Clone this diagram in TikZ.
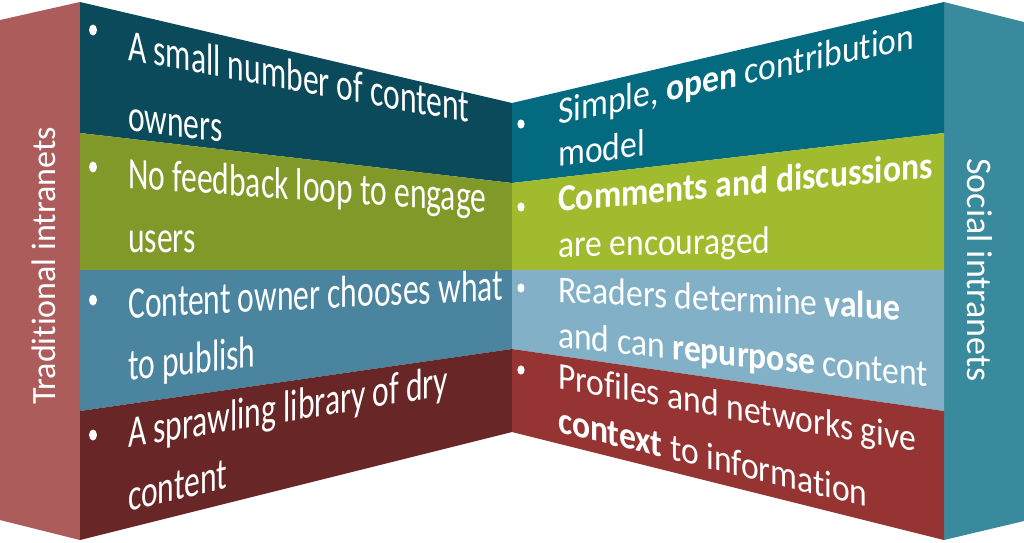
\documentclass[tikz,border=0pt]{standalone}
\usepackage{fontspec}
\setmainfont[Ligatures=NoCommon]{Carlito}
\definecolor{lpanel}{HTML}{AD5C5C}
\definecolor{rpanel}{HTML}{3A8A9E}
\definecolor{lA}{HTML}{0A4A5A}
\definecolor{lB}{HTML}{809928}
\definecolor{lC}{HTML}{4A849E}
\definecolor{lD}{HTML}{682626}
\definecolor{rA}{HTML}{036A80}
\definecolor{rB}{HTML}{A0BC2E}
\definecolor{rC}{HTML}{82B0C6}
\definecolor{rD}{HTML}{963434}
\begin{document}
\begin{tikzpicture}[x=1pt,y=-1pt,
  ltxt/.style={yslant=#1, yscale=1.42, anchor=base west, inner sep=0pt, text=white,
    font=\fontsize{31.6}{36}\selectfont},
  rtxt/.style={yslant=#1, yscale=1.13, anchor=base west, inner sep=0pt, text=white,
    font=\fontsize{33.6}{38}\selectfont},
  lbul/.style={fill=white, draw=none, x radius=4, y radius=5.5},
  rbul/.style={fill=white, draw=none, x radius=3.6, y radius=4.6},
  side/.style={text=white, inner sep=0pt, anchor=base}]
\useasboundingbox (0,0) rectangle (1024,542);
% corners
\coordinate (LT0) at (0,20);   \coordinate (LB0) at (0,520);
\coordinate (LT) at (80,2);    \coordinate (LB) at (80,540);
\coordinate (L1) at (80,133);  \coordinate (L2) at (80,270);  \coordinate (L3) at (80,411);
\coordinate (MT) at (512,103); \coordinate (MB) at (512,432);
\coordinate (M1) at (512,183); \coordinate (M2) at (512,270); \coordinate (M3) at (512,349);
\coordinate (RT) at (944,2);   \coordinate (RB) at (944,540);
\coordinate (R1) at (944,133); \coordinate (R2) at (944,270); \coordinate (R3) at (944,411);
\coordinate (RT0) at (1024,22); \coordinate (RB0) at (1024,521);
% side panels
\fill[lpanel] (LT0) -- (LT) -- (LB) -- (LB0) -- cycle;
\fill[rpanel] (RT) -- (RT0) -- (RB0) -- (RB) -- cycle;
% left face
\fill[lA] (LT) -- (MT) -- (M1) -- (L1) -- cycle;
\fill[lB] (L1) -- (M1) -- (M2) -- (L2) -- cycle;
\fill[lC] (L2) -- (M2) -- (M3) -- (L3) -- cycle;
\fill[lD] (L3) -- (M3) -- (MB) -- (LB) -- cycle;
% right face
\fill[rA] (MT) -- (RT) -- (R1) -- (M1) -- cycle;
\fill[rB] (M1) -- (R1) -- (R2) -- (M2) -- cycle;
\fill[rC] (M2) -- (R2) -- (R3) -- (M3) -- cycle;
\fill[rD] (M3) -- (R3) -- (RB) -- (MB) -- cycle;
% side labels
\node[side, rotate=90, font=\fontsize{34}{40}\selectfont] (trad) at (55,266) {Traditional intranets};
\node[side, rotate=-90, font=\fontsize{36}{40}\selectfont] (soc) at (967,270) {Social intranets};
% bullets
\fill[lbul] (93,30) circle;
\fill[lbul] (93,167) circle;
\fill[lbul] (93,300) circle;
\fill[lbul] (93,435) circle;
\fill[rbul] (521,124) circle;
\fill[rbul] (521,207) circle;
\fill[rbul] (521,288) circle;
\fill[rbul] (521,370) circle;
% left text
\node[ltxt=-0.184] (l1) at (128,60) {A small number of content};
\node[ltxt=-0.127] (l2) at (128,130) {owners};
\node[ltxt=-0.07] (l3) at (128,188) {No feedback loop to engage};
\node[ltxt=-0.01] (l4) at (128,252) {users};
\node[ltxt=0.048] (l5) at (128,318) {Content owner chooses what};
\node[ltxt=0.11] (l6) at (128,381) {to publish};
\node[ltxt=0.165] (l7) at (128,448) {A sprawling library of dry};
\node[ltxt=0.24] (l8) at (128,512) {content};
% right text
\node[rtxt=0.215] (r1) at (558,125) {Simple, \textbf{open} contribution};
\node[rtxt=0.13] (r2) at (558,167) {model};
\node[rtxt=0.091] (r3) at (558,212) {\textbf{Comments and discussions}};
\node[rtxt=0.02] (r4) at (558,257) {are encouraged};
\node[rtxt=-0.053] (r5) at (558,302) {Readers determine \textbf{value}};
\node[rtxt=-0.108] (r6) at (558,347) {and can \textbf{repurpose} content};
\node[rtxt=-0.178] (r7) at (558,388) {Profiles and networks give};
\node[rtxt=-0.243] (r8) at (558,432) {\textbf{context} to information};
\end{tikzpicture}
\end{document}
